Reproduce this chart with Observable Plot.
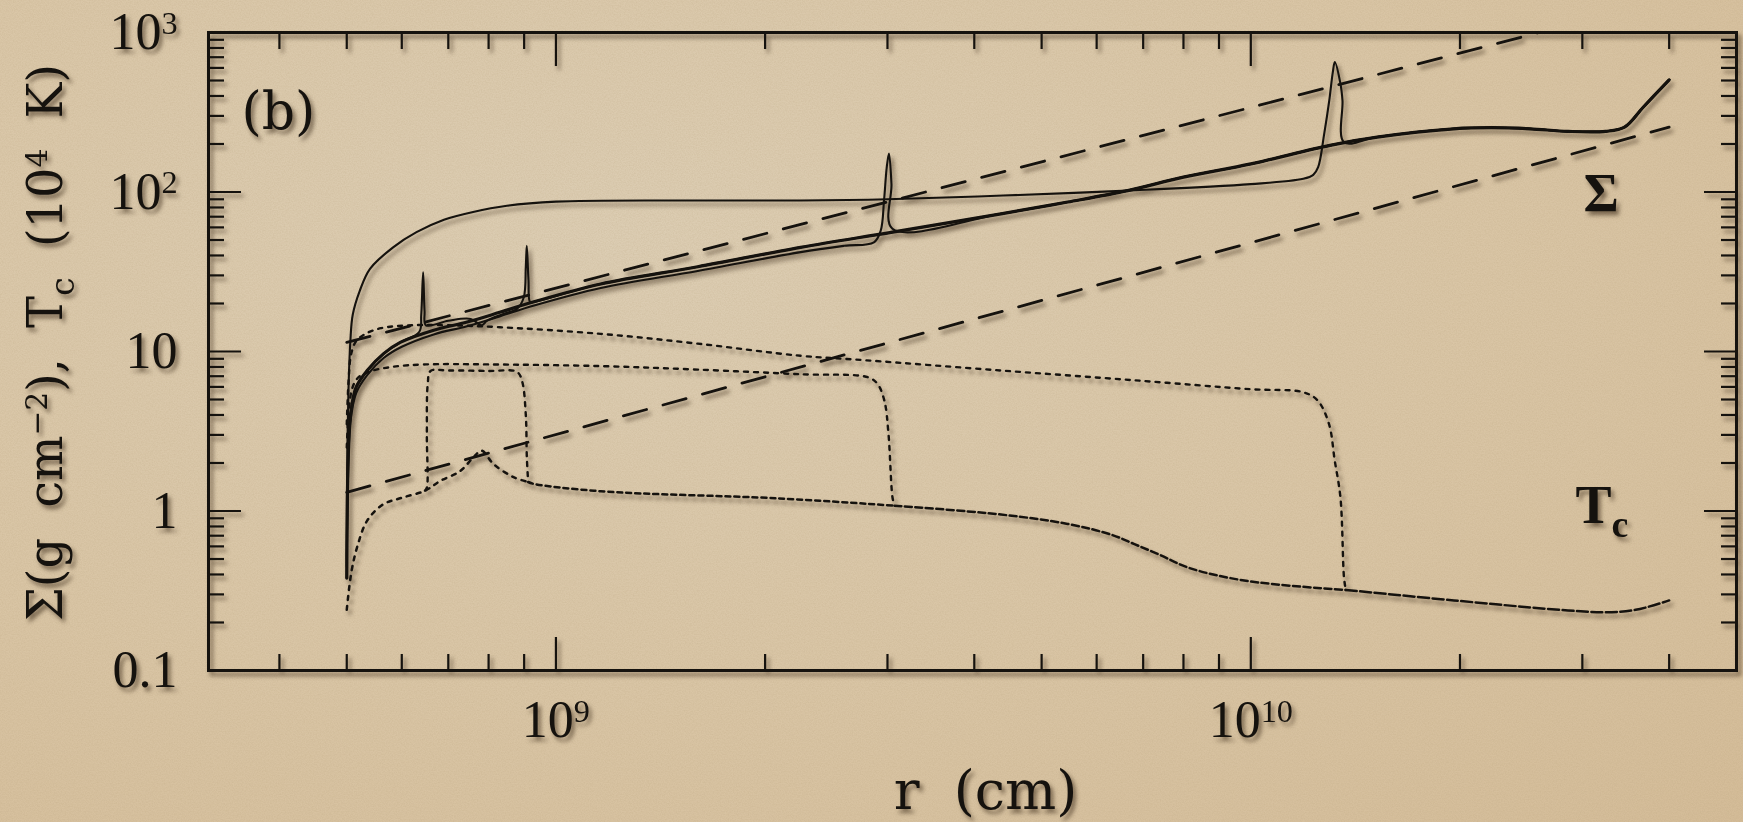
<!DOCTYPE html>
<html>
<head>
<meta charset="utf-8">
<script src="https://cdn.jsdelivr.net/npm/d3@7"></script>
<script src="https://cdn.jsdelivr.net/npm/@observablehq/plot@0.6"></script>
<style>
  html, body { margin: 0; padding: 0; }
  body { width: 1743px; height: 822px; overflow: hidden; background: #d8c4a4; position: relative; }
  #paper { position: absolute; left: 0; top: 0; width: 1743px; height: 822px;
    background: radial-gradient(ellipse at 35% 30%, #dccdb3 0%, #d9c5a5 55%, #d4bc98 100%); }
  #paper svg { position: absolute; left: 0; top: 0; }
  #chart { position: absolute; left: 0; top: 0; }
  #chart svg { filter: drop-shadow(3px 4px 2px rgba(45, 30, 12, 0.55)); }
</style>
</head>
<body>
<div id="paper">
  <svg width="1743" height="822">
    <filter id="grain">
      <feTurbulence type="fractalNoise" baseFrequency="0.75" numOctaves="2" seed="7" stitchTiles="stitch"/>
      <feColorMatrix type="matrix" values="0 0 0 0 0.42  0 0 0 0 0.31  0 0 0 0 0.16  0.32 0 0 0 -0.1"/>
    </filter>
    <rect width="1743" height="822" filter="url(#grain)"/>
  </svg>
</div>
<div id="chart"></div>
<script>
// ---- Axis extents and ticks (r in cm; Σ in g cm^-2, T_c in 10^4 K) ----
const rDomain = [10 ** 8.5, 5e10];
const valueDomain = [0.1, 1000];

const xMajorTicks = [1e9, 1e10];
const xTickLabels = ["10^{9}", "10^{10}"];
const xMinorTicks = [4e8, 5e8, 6e8, 7e8, 8e8, 9e8,
  2e9, 3e9, 4e9, 5e9, 6e9, 7e9, 8e9, 9e9,
  2e10, 3e10, 4e10];

const yMajorTicks = [0.1, 1, 10, 100, 1000];
const yTickLabels = ["0.1", "1", "10", "10^{2}", "10^{3}"];
const yMinorTicks = [0.2, 0.3, 0.4, 0.5, 0.6, 0.7, 0.8, 0.9,
  2, 3, 4, 5, 6, 7, 8, 9,
  20, 30, 40, 50, 60, 70, 80, 90,
  200, 300, 400, 500, 600, 700, 800, 900];

// ---- Critical surface densities (straight power laws) ----
const sigmaMaxLine = [[5.0e8, 11.4], [2.6e10, 1000]];
const sigmaMinLine = [[5.0e8, 1.31], [4.0e10, 255]];

// ---- Surface density profiles [r, Σ] ----
// cold (quiescent) disc
const sigmaCold = [
  [5.00e8, 0.38], [5.01e8, 1.2], [5.03e8, 2.5], [5.07e8, 4.2], [5.16e8, 6.0],
  [5.35e8, 7.6], [5.65e8, 9.7], [5.97e8, 11.4], [6.67e8, 13.6], [7.45e8, 15.3],
  [8.3e8, 17.6], [9.3e8, 20.5], [1.16e9, 26.5], [1.6e9, 34], [2.25e9, 45],
  [3.05e9, 56], [4.37e9, 73], [5.45e9, 86.5], [6.65e9, 102], [8.0e9, 124],
  [1.0e10, 150], [1.3e10, 196], [1.52e10, 221], [1.96e10, 249], [2.22e10, 253],
  [2.52e10, 249], [2.86e10, 240], [3.24e10, 240], [3.45e10, 255], [3.67e10, 340],
  [4.0e10, 505]
];
// two fronts leaving the ignition radius
const sigmaIgnition = [
  [6.36e8, 13.3], [6.40e8, 17], [6.44e8, 31.4], [6.47e8, 18], [6.5e8, 14.6],
  [7.0e8, 15.6], [7.54e8, 16.0], [7.82e8, 14.6], [7.96e8, 15.6], [8.4e8, 17.2],
  [8.79e8, 18.5], [8.99e8, 21.9], [9.05e8, 34], [9.08e8, 46], [9.13e8, 28],
  [9.18e8, 20.4]
];
// hot inner disc, front near 3e9 cm
const sigmaMidFront = [
  [5.00e8, 0.45], [5.02e8, 1.6], [5.06e8, 3.6], [5.16e8, 5.5], [5.35e8, 7.1],
  [5.65e8, 9.1], [6.0e8, 10.7], [6.67e8, 12.8], [7.45e8, 14.4], [8.3e8, 16.6],
  [9.3e8, 19.4], [1.16e9, 25], [1.6e9, 32], [2.25e9, 42], [2.6e9, 46],
  [2.868e9, 48.4], [2.934e9, 57.4], [2.966e9, 88.5], [2.993e9, 143], [3.015e9, 174],
  [3.04e9, 112], [3.05e9, 58.8]
];
// hot inner disc, front near 1.3e10 cm
const sigmaOuterFront = [
  [5.00e8, 0.5], [5.01e8, 2.5], [5.03e8, 6], [5.06e8, 11.6], [5.1e8, 17],
  [5.22e8, 24], [5.4e8, 33], [5.83e8, 45], [6.3e8, 56], [6.9e8, 67],
  [7.6e8, 75], [8.5e8, 82], [1.0e9, 87], [1.5e9, 88.5], [2.25e9, 88.5],
  [3.0e9, 90], [4.4e9, 95], [6.65e9, 102], [1.0e10, 112], [1.19e10, 121],
  [1.23e10, 128], [1.25e10, 143], [1.275e10, 230], [1.297e10, 375], [1.312e10, 560],
  [1.321e10, 652], [1.346e10, 476], [1.355e10, 375], [1.362e10, 205]
];

// ---- Central temperature profiles [r, T_c] ----
const tempCold = [
  [5.00e8, 0.24], [5.08e8, 0.42], [5.19e8, 0.62], [5.35e8, 0.87], [5.64e8, 1.10],
  [6.0e8, 1.21], [6.48e8, 1.34], [6.81e8, 1.54], [7.28e8, 1.78], [7.6e8, 2.16],
  [7.82e8, 2.39], [8.13e8, 1.97], [8.69e8, 1.63], [9.12e8, 1.52], [9.29e8, 1.48],
  [1.16e9, 1.33], [2.09e9, 1.2], [3.07e9, 1.08], [4.37e9, 0.95], [5.45e9, 0.83],
  [6.3e9, 0.71], [6.8e9, 0.62], [7.4e9, 0.53], [8.15e9, 0.44], [9.84e9, 0.365],
  [1.37e10, 0.32], [1.96e10, 0.275], [2.86e10, 0.238], [3.24e10, 0.232], [3.58e10, 0.24],
  [4.0e10, 0.275]
];
const tempIgnition = [
  [6.48e8, 1.34], [6.52e8, 1.40], [6.52e8, 3.0], [6.54e8, 6.3], [6.6e8, 7.55],
  [7.0e8, 7.6], [8.0e8, 7.55], [8.79e8, 7.45], [8.94e8, 6.5], [9.05e8, 4.0],
  [9.08e8, 2.2], [9.12e8, 1.52]
];
const tempMidFront = [
  [5.00e8, 2.5], [5.04e8, 4.5], [5.1e8, 6.0], [5.2e8, 6.9], [5.4e8, 7.5],
  [5.8e8, 8.0], [6.5e8, 8.3], [8.0e8, 8.3], [1.16e9, 8.1], [1.6e9, 7.7],
  [2.25e9, 7.2], [2.81e9, 6.9], [2.90e9, 6.3], [2.97e9, 4.9], [3.01e9, 3.05],
  [3.05e9, 1.22], [3.07e9, 1.08]
];
const tempOuterFront = [
  [5.00e8, 3.5], [5.03e8, 6.5], [5.07e8, 9.5], [5.15e8, 11.5], [5.3e8, 12.8],
  [5.6e8, 14.0], [6.2e8, 14.6], [7.0e8, 14.6], [8.3e8, 14.2], [1.16e9, 12.9],
  [1.6e9, 11.2], [2.25e9, 9.4], [2.8e9, 8.8], [4.37e9, 7.6], [6.8e9, 6.6],
  [1.0e10, 5.8], [1.19e10, 5.55], [1.248e10, 4.93], [1.296e10, 3.5], [1.32e10, 2.1],
  [1.346e10, 1.21], [1.362e10, 0.38], [1.37e10, 0.32]
];

// ---- Text ----
const yTitle = "Σ(g  cm^{−2}),  T_{c}  (10^{4}  K)";
const xTitle = "r  (cm)";
const panelTag = "(b)";
const sigmaTag = "Σ";
const tempTag = "T_{c}";

// ---- Σ profiles: hot parts joined to the cold disc outside them ----
const before = (curve, r0) => curve.filter(([r]) => r < r0);
const after = (curve, r1) => curve.filter(([r]) => r > r1);
const within = (curve, r0, r1) => curve.filter(([r]) => r >= r0 && r <= r1);

const sigmaProfiles = [
  [...before(sigmaCold, 6.36e8), ...sigmaIgnition, ...after(sigmaCold, 9.18e8)],
  [...sigmaMidFront, ...after(sigmaCold, 3.05e9)],
  [...sigmaOuterFront, ...after(sigmaCold, 1.362e10)]
];

// Where several cold T_c profiles lie on top of each other their dots merge
// into longer dashes; the cold curve is stroked piecewise to show that.
const coldPieces = [
  {pts: within(tempCold, 5.0e8, 9.12e8), dash: "4,6"},
  {pts: within(tempCold, 9.12e8, 3.07e9), dash: "5,4"},
  {pts: within(tempCold, 3.07e9, 1.37e10), dash: "7,3.5"},
  {pts: within(tempCold, 1.37e10, 4.0e10), dash: "11,3.5"}
];
const hotTemps = [tempIgnition, tempMidFront, tempOuterFront];

const ink = "#15120e";
const serif = "Liberation Serif";
const wideSerif = "DejaVu Serif";
const xy = {x: (d) => d[0], y: (d) => d[1]};
const curveStyle = {stroke: ink, curve: "catmull-rom", strokeLinejoin: "round"};
const tickStyle = {stroke: ink, strokeWidth: 2.2, fill: "none", label: null};

const marks = [];

// inward-pointing ticks on all four sides
for (const anchor of ["bottom", "top"]) {
  marks.push(Plot.axisX(xMinorTicks, {anchor, tickSize: -16, ...tickStyle}));
  marks.push(Plot.axisX(xMajorTicks, {anchor, tickSize: -33, ...tickStyle}));
}
for (const anchor of ["left", "right"]) {
  marks.push(Plot.axisY(yMinorTicks, {anchor, tickSize: -16, ...tickStyle}));
  marks.push(Plot.axisY(yMajorTicks, {anchor, tickSize: -33, ...tickStyle}));
}
marks.push(Plot.frame({stroke: ink, strokeWidth: 3}));

// tick labels
marks.push(Plot.text(xMajorTicks, {
  x: (d) => d, frameAnchor: "bottom", dy: 50, text: (d, i) => xTickLabels[i],
  fontSize: 52, fontFamily: serif, fill: ink, textAnchor: "middle", lineAnchor: "middle"
}));
marks.push(Plot.text(yMajorTicks, {
  y: (d) => d, frameAnchor: "left", dx: -31, text: (d, i) => yTickLabels[i],
  fontSize: 52, fontFamily: serif, fill: ink, textAnchor: "end", lineAnchor: "middle"
}));

// critical Σ lines
marks.push(Plot.line(sigmaMaxLine, {...xy, stroke: ink, strokeWidth: 2.8, strokeDasharray: "24,17"}));
marks.push(Plot.line(sigmaMinLine, {...xy, stroke: ink, strokeWidth: 2.8, strokeDasharray: "24,17"}));

// central temperature (dotted)
for (const piece of coldPieces) {
  marks.push(Plot.line(piece.pts, {...xy, ...curveStyle, strokeWidth: 2.5, strokeDasharray: piece.dash}));
}
for (const p of hotTemps) {
  marks.push(Plot.line(p, {...xy, ...curveStyle, strokeWidth: 2.4, strokeDasharray: "4,6"}));
}
// surface density (solid)
marks.push(Plot.line(sigmaCold, {...xy, ...curveStyle, strokeWidth: 3.2}));
for (const p of sigmaProfiles) {
  marks.push(Plot.line(p, {...xy, ...curveStyle, strokeWidth: 2.1}));
}

// labels inside and around the frame
marks.push(Plot.text([panelTag], {
  frameAnchor: "top-left", dx: 33, dy: 80, fontSize: 52, fontFamily: wideSerif,
  fill: ink, textAnchor: "start", lineAnchor: "middle"
}));
marks.push(Plot.text([sigmaTag], {
  frameAnchor: "top-right", dx: -153, dy: 161, fontSize: 54, fontFamily: serif,
  fontWeight: "bold", fill: ink, textAnchor: "start", lineAnchor: "middle"
}));
marks.push(Plot.text([tempTag], {
  frameAnchor: "top-right", dx: -161, dy: 473, fontSize: 54, fontFamily: serif,
  fontWeight: "bold", fill: ink, textAnchor: "start", lineAnchor: "middle"
}));
marks.push(Plot.text([xTitle], {
  frameAnchor: "bottom", dx: 13, dy: 121, fontSize: 54, fontFamily: wideSerif,
  fill: ink, textAnchor: "middle", lineAnchor: "middle"
}));
marks.push(Plot.text([yTitle], {
  frameAnchor: "left", dx: -162, dy: -9, rotate: -90, fontSize: 48, fontFamily: wideSerif,
  fill: ink, textAnchor: "middle", lineAnchor: "middle", className: "ytitle"
}));

const chart = Plot.plot({
  width: 1743,
  height: 822,
  marginLeft: 208,
  marginRight: 7,
  marginTop: 32,
  marginBottom: 152,
  x: {type: "log", domain: rDomain, axis: null},
  y: {type: "log", domain: valueDomain, axis: null},
  style: {background: "transparent", fontFamily: serif, color: ink, overflow: "visible"},
  marks
});
document.getElementById("chart").appendChild(chart);

// Turn ^{...} and _{...} into raised / lowered tspans.
const NS = "http://www.w3.org/2000/svg";
function richText(el) {
  const s = el.textContent;
  if (!/[\^_]\{/.test(s)) return false;
  const re = /\^\{([^}]*)\}|_\{([^}]*)\}|([^\^_]+)/g;
  const segs = [];
  let m;
  while ((m = re.exec(s))) {
    if (m[1] != null) segs.push({t: m[1], k: 0.62, shift: -0.3});
    else if (m[2] != null) segs.push({t: m[2], k: 0.7, shift: 0.26});
    else segs.push({t: m[3], k: 1, shift: 0});
  }
  el.textContent = "";
  let cur = 0;
  for (const seg of segs) {
    const ts = document.createElementNS(NS, "tspan");
    if (seg.k !== 1) ts.setAttribute("font-size", `${seg.k * 100}%`);
    const d = seg.shift - cur;
    if (Math.abs(d) > 1e-9) ts.setAttribute("dy", `${(d / seg.k).toFixed(4)}em`);
    ts.textContent = seg.t;
    el.appendChild(ts);
    cur = seg.shift;
  }
  return true;
}
chart.querySelectorAll("text").forEach((t) => {
  t.setAttribute("xml:space", "preserve");
  t.style.whiteSpace = "pre";
  richText(t);
});
// stretch the rotated axis title to its span
const yt = chart.querySelector(".ytitle text");
if (yt) {
  yt.setAttribute("textLength", 557);
  yt.setAttribute("lengthAdjust", "spacing");
}
</script>
</body>
</html>
